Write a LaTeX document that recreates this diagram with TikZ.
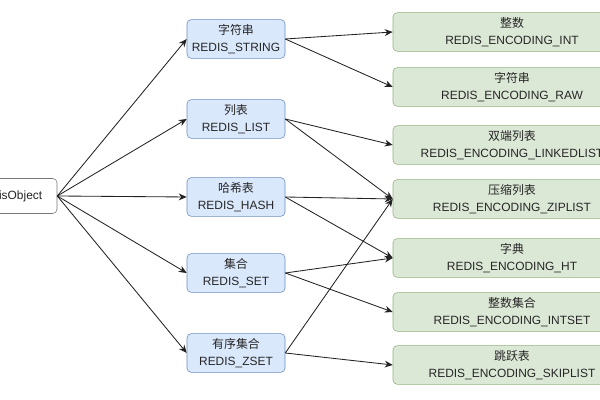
\documentclass[tikz,border=0pt]{standalone}
\usepackage{fontspec}
\setmainfont{Liberation Sans}
\newfontfamily\cjk{Noto Sans CJK SC}
\usepackage{xcolor}
\usepackage{tikz}
\usetikzlibrary{arrows.meta, positioning}
\definecolor{typefill}{HTML}{DAE8FC}
\definecolor{typeline}{HTML}{6C8EBF}
\definecolor{encfill}{HTML}{DCE8D6}
\definecolor{encline}{HTML}{8FB27E}
\definecolor{objline}{HTML}{777777}
\definecolor{arrowcolor}{HTML}{222222}

\begin{document}
\begin{tikzpicture}[
        every node/.style={font=\fontsize{8.5}{12}\selectfont, text=black!85},
        objbox/.style={rectangle, rounded corners=3pt, draw=objline, fill=white,
                       minimum width=2.25cm, minimum height=0.875cm},
        typebox/.style={rectangle, rounded corners=3pt, draw=typeline, fill=typefill,
                        minimum width=2.45cm, minimum height=0.8cm, align=center},
        encbox/.style={rectangle, rounded corners=3pt, draw=encline, fill=encfill,
                       minimum width=5.95cm, minimum height=0.875cm, align=center},
        link/.style={-{Stealth[length=2mm, width=1.7mm]}, line width=0.6pt, color=arrowcolor}
    ]
        \useasboundingbox (0,0) rectangle (15,10);

        % object
        \node[objbox] (obj) at (0.3,5.1) {redisObject};

        % types
        \node[typebox] (string) at (5.9,9.025) {{\cjk 字符串}\\REDIS\_STRING};
        \node[typebox] (list) at (5.9,7.025) {{\cjk 列表}\\REDIS\_LIST};
        \node[typebox] (hash) at (5.9,5.075) {{\cjk 哈希表}\\REDIS\_HASH};
        \node[typebox] (set) at (5.9,3.175) {{\cjk 集合}\\REDIS\_SET};
        \node[typebox] (zset) at (5.9,1.175) {{\cjk 有序集合}\\REDIS\_ZSET};

        % encodings
        \node[encbox] (int) at (12.8,9.2) {{\cjk 整数}\\REDIS\_ENCODING\_INT};
        \node[encbox] (raw) at (12.8,7.825) {{\cjk 字符串}\\REDIS\_ENCODING\_RAW};
        \node[encbox] (linked) at (12.8,6.375) {{\cjk 双端列表}\\REDIS\_ENCODING\_LINKEDLIST};
        \node[encbox] (ziplist) at (12.8,5.025) {{\cjk 压缩列表}\\REDIS\_ENCODING\_ZIPLIST};
        \node[encbox] (ht) at (12.8,3.55) {{\cjk 字典}\\REDIS\_ENCODING\_HT};
        \node[encbox] (intset) at (12.8,2.2) {{\cjk 整数集合}\\REDIS\_ENCODING\_INTSET};
        \node[encbox] (skiplist) at (12.8,0.875) {{\cjk 跳跃表}\\REDIS\_ENCODING\_SKIPLIST};

        \draw[link] (obj.east) -- (string.west);
        \draw[link] (obj.east) -- (list.west);
        \draw[link] (obj.east) -- (hash.west);
        \draw[link] (obj.east) -- (set.west);
        \draw[link] (obj.east) -- (zset.west);

        \draw[link] (string.east) -- (int.west);
        \draw[link] (string.east) -- (raw.west);
        \draw[link] (list.east) -- (linked.west);
        \draw[link] (list.east) -- (ziplist.west);
        \draw[link] (hash.east) -- (ziplist.west);
        \draw[link] (hash.east) -- (ht.west);
        \draw[link] (set.east) -- (ht.west);
        \draw[link] (set.east) -- (intset.west);
        \draw[link] (zset.east) -- (ziplist.west);
        \draw[link] (zset.east) -- (skiplist.west);
    \end{tikzpicture}
\end{document}
